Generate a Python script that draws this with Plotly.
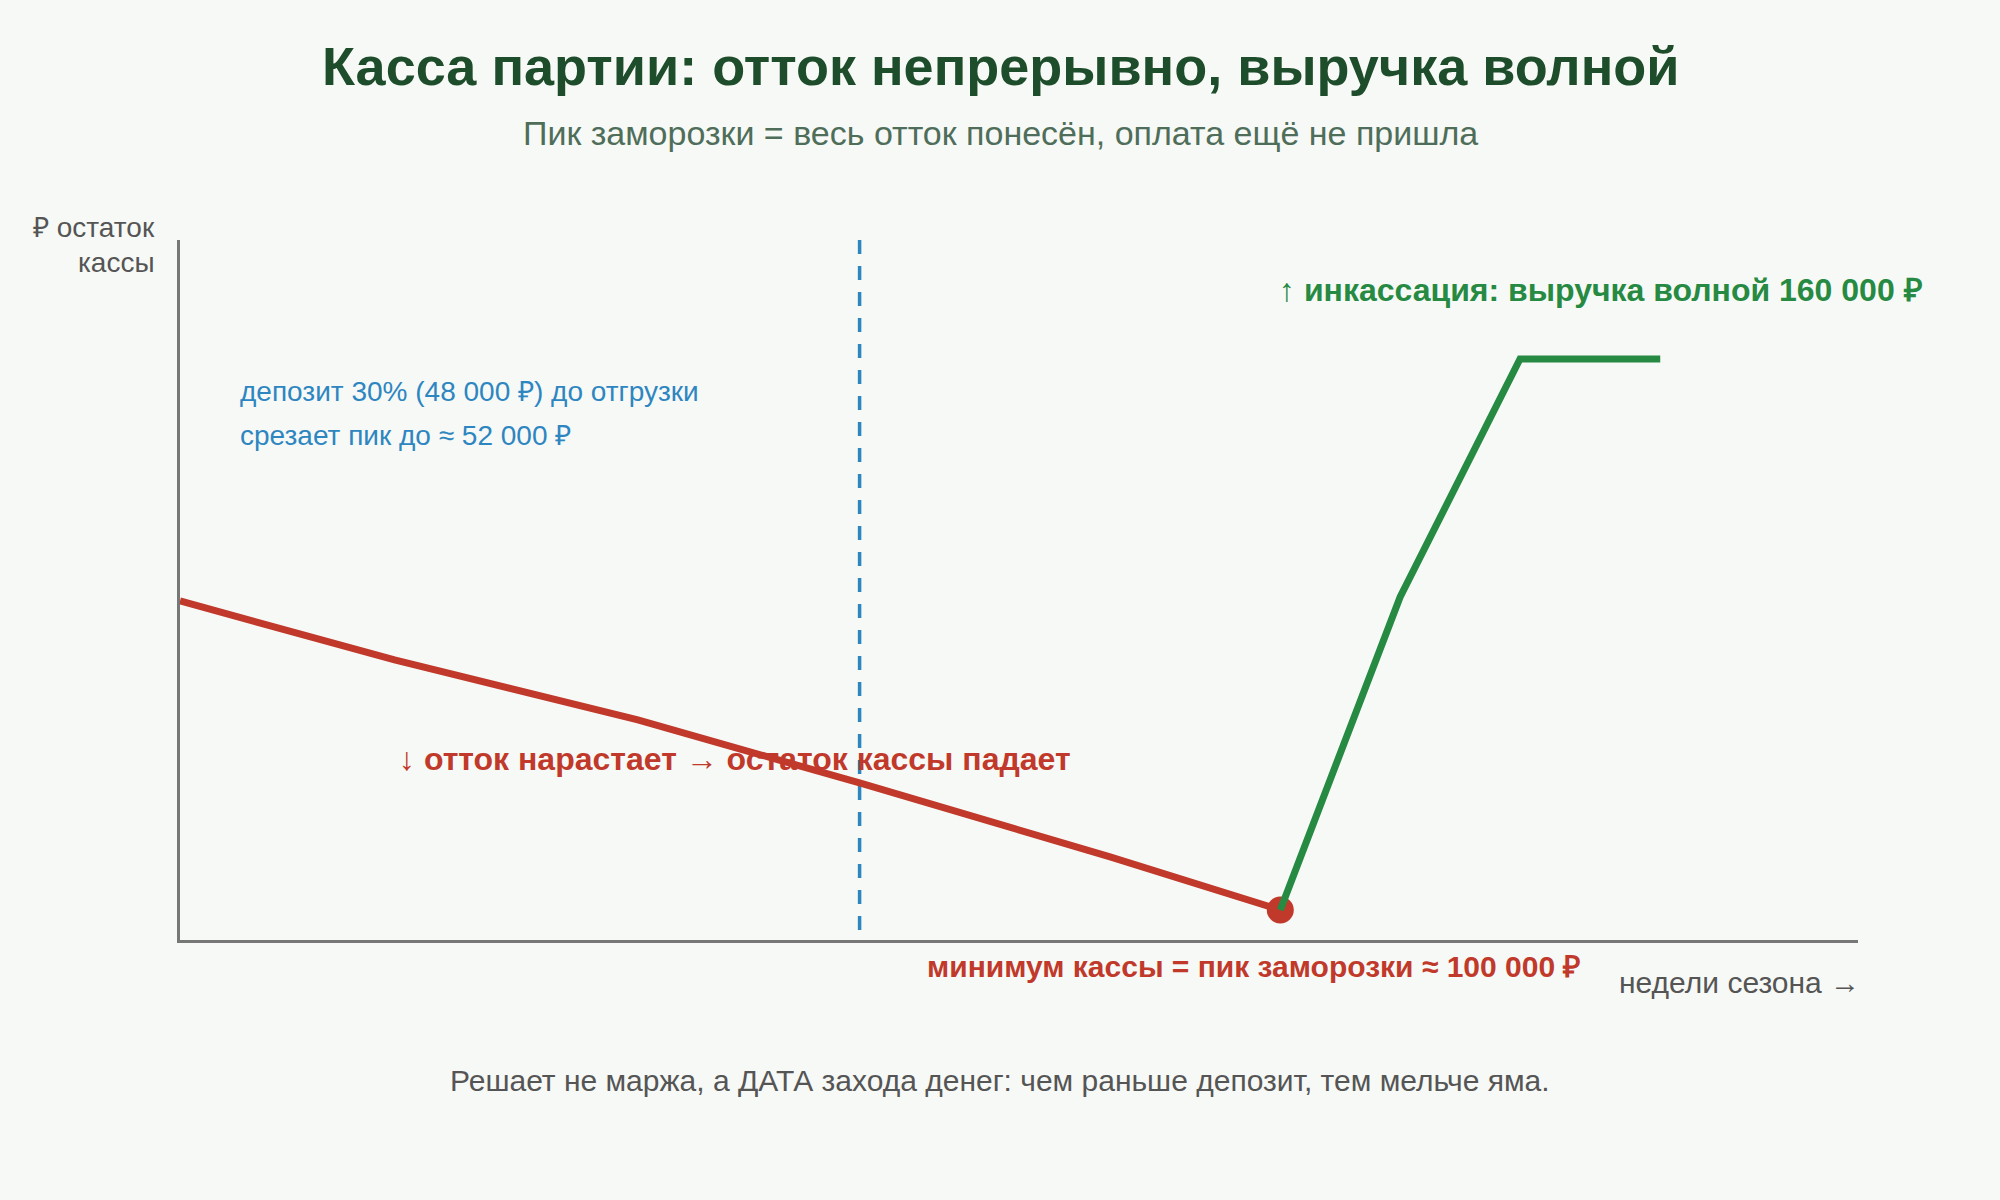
import plotly.graph_objects as go

# ---- data (weeks of season, cash balance in thousand ₽, relative scale) ----
outflow_weeks = [0.0, 1.79, 3.82, 5.67, 7.76, 9.18]
outflow_cash = [100.0, 80.9, 61.5, 41.1, 17.2, 0.0]
inflow_weeks = [9.18, 10.18, 11.18, 12.35]
inflow_cash = [0.0, 101.3, 178.3, 178.3]
min_week = 9.18
min_cash = 0.0
deposit_week = 5.67

X_RANGE = [0, 14]
Y_RANGE = [-9.71, 216.8]

title_text = "Касса партии: отток непрерывно, выручка волной"
subtitle_text = "Пик заморозки = весь отток понесён, оплата ещё не пришла"
ylabel_lines = ["₽ остаток", "кассы"]
xlabel_text = "недели сезона →"
deposit_lines = ["депозит 30% (48 000 ₽) до отгрузки", "срезает пик до ≈ 52 000 ₽"]
inflow_text = "↑ инкассация: выручка волной 160 000 ₽"
outflow_text = "↓ отток нарастает → остаток кассы падает"
min_text = "минимум кассы = пик заморозки ≈ 100 000 ₽"
footer_text = "Решает не маржа, а ДАТА захода денег: чем раньше депозит, тем мельче яма."

RED = "#c0392b"
GREEN = "#268a43"
BLUE = "#2e86c1"
DARK = "#1e4d2b"
GRAY = "#555555"
BG = "#f7f9f6"
FONT = "Liberation Sans, Arial, sans-serif"

W, H = 2000, 1200
L, R, T, B = 180, 142, 240, 260
PW, PH = W - L - R, H - T - B


def px(x):
    return (x - L) / PW


def py(y):
    return (H - B - y) / PH


fig = go.Figure()

fig.add_trace(go.Scatter(x=outflow_weeks, y=outflow_cash, mode="lines",
                         line=dict(color=RED, width=7), hoverinfo="skip"))
fig.add_trace(go.Scatter(x=[min_week], y=[min_cash], mode="markers",
                         marker=dict(color=RED, size=27, line=dict(width=0)),
                         hoverinfo="skip"))
fig.add_trace(go.Scatter(x=inflow_weeks, y=inflow_cash, mode="lines",
                         line=dict(color=GREEN, width=7), hoverinfo="skip"))

fig.add_shape(type="line", xref="x", yref="y",
              x0=deposit_week, x1=deposit_week, y0=Y_RANGE[1], y1=-6.5,
              line=dict(color=BLUE, width=3.5, dash="14px,12px"), layer="below")

ann = []


def add(text, x, y, size, color, xanchor="center", bold=False, xref="paper", xshift=0):
    t = f"<b>{text}</b>" if bold else text
    ann.append(dict(text=t, x=x, y=y, xref=xref, yref="paper", xanchor=xanchor,
                    yanchor="middle", showarrow=False, xshift=xshift,
                    font=dict(family=FONT, size=size, color=color)))


add(title_text, px(1000), py(66), 54, DARK, bold=True)
add(subtitle_text, px(1000), py(133), 34, "#4f6e5a")
add(ylabel_lines[0], px(157), py(227), 28, GRAY, xanchor="right")
add(ylabel_lines[1], px(157), py(263), 28, GRAY, xanchor="right")
add(deposit_lines[0], px(238), py(391), 28, BLUE, xanchor="left")
add(deposit_lines[1], px(238), py(435), 28, BLUE, xanchor="left")
add(inflow_text, min_week, py(290), 32, GREEN, xanchor="left", bold=True, xref="x", xshift=-3)
add(outflow_text, px(397), py(759), 32, RED, xanchor="left", bold=True)
add(min_text, px(925), py(966), 30, RED, xanchor="left", bold=True)
add(xlabel_text, px(1862), py(982), 30, GRAY, xanchor="right")
add(footer_text, px(1000), py(1080), 30, GRAY)

fig.update_layout(
    width=W, height=H,
    margin=dict(l=L, r=R, t=T, b=B),
    paper_bgcolor=BG, plot_bgcolor=BG,
    showlegend=False,
    annotations=ann,
    xaxis=dict(range=X_RANGE, showgrid=False, zeroline=False, showticklabels=False,
               ticks="", showline=True, linecolor="#777777", linewidth=3, fixedrange=True),
    yaxis=dict(range=Y_RANGE, showgrid=False, zeroline=False, showticklabels=False,
               ticks="", showline=True, linecolor="#777777", linewidth=3, fixedrange=True),
)

fig.write_html("out.html", config={"displayModeBar": False})
